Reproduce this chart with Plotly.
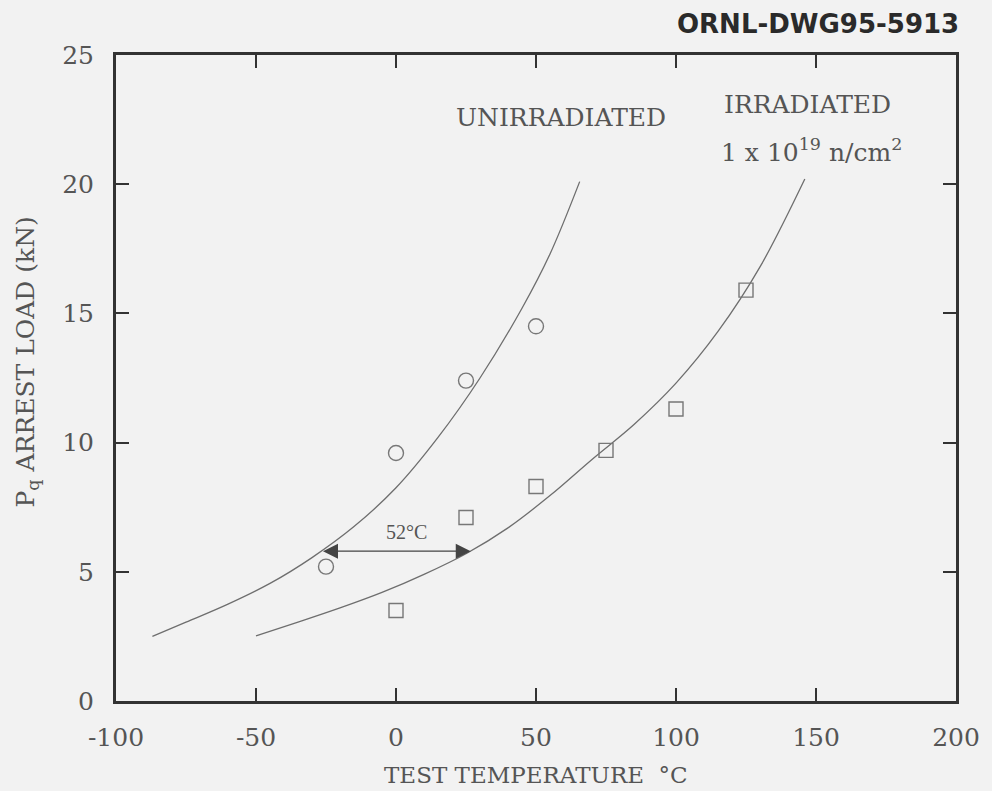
import plotly.graph_objects as go

# Measured arrest loads
unirr_temp = [-25, 0, 25, 50]
unirr_load = [5.2, 9.6, 12.4, 14.5]
irr_temp = [0, 25, 50, 75, 100, 125]
irr_load = [3.5, 7.1, 8.3, 9.7, 11.3, 15.9]

# Fitted trend curves
unirr_fit_temp = [-87, -75, -60, -45, -30, -15, 0, 15, 30, 45, 55, 65.6]
unirr_fit_load = [2.5, 3.05, 3.75, 4.55, 5.55, 6.75, 8.25, 10.2, 12.5, 15.2, 17.3, 20.1]
irr_fit_temp = [-50, -35, -20, -5, 10, 25, 40, 55, 70, 85, 100, 115, 130, 146]
irr_fit_load = [2.52, 3.05, 3.6, 4.2, 4.9, 5.7, 6.7, 7.95, 9.35, 10.7, 12.3, 14.3, 16.8, 20.2]

# Temperature shift between the two curves
shift_load = 5.8
shift_from = -26.6
shift_to = 26.7
shift_label = "52°C"

x_ticks = [-100, -50, 0, 50, 100, 150, 200]
y_ticks = [0, 5, 10, 15, 20, 25]

serif = "DejaVu Serif"
ink = "#333333"
text_col = "#555555"
curve_col = "#6e6e6e"
bg = "#f2f2f2"

fig = go.Figure()

for xs, ys in ((unirr_fit_temp, unirr_fit_load), (irr_fit_temp, irr_fit_load)):
    fig.add_trace(go.Scatter(
        x=xs, y=ys, mode="lines",
        line=dict(color=curve_col, width=1.3, shape="spline", smoothing=1.0),
        hoverinfo="skip", showlegend=False))

fig.add_trace(go.Scatter(
    x=unirr_temp, y=unirr_load, mode="markers", name="Unirradiated",
    marker=dict(symbol="circle-open", size=15, color="#777777", line=dict(width=1.4)),
    showlegend=False))
fig.add_trace(go.Scatter(
    x=irr_temp, y=irr_load, mode="markers", name="Irradiated",
    marker=dict(symbol="square-open", size=14, color="#777777", line=dict(width=1.4)),
    showlegend=False))

centered = dict(xanchor="center", yanchor="middle", showarrow=False)

annotations = [
    # double-headed shift arrow
    dict(x=shift_to, y=shift_load, ax=shift_from, ay=shift_load,
         xref="x", yref="y", axref="x", ayref="y", text="",
         showarrow=True, arrowhead=2, startarrowhead=2, arrowside="end+start",
         arrowsize=2.5, startarrowsize=2.5, arrowwidth=1.2, arrowcolor="#444444"),
    dict(x=3.7, y=6.55, xref="x", yref="y", text=shift_label,
         font=dict(family="Liberation Serif", size=20, color=text_col), **centered),
    dict(x=59.0, y=22.6, xref="x", yref="y", text="UNIRRADIATED",
         font=dict(family=serif, size=25, color=text_col), **centered),
    dict(x=147.0, y=23.1, xref="x", yref="y", text="IRRADIATED",
         font=dict(family=serif, size=25, color=text_col), **centered),
    dict(x=148.5, y=21.3, xref="x", yref="y",
         text="1 x 10<sup>19</sup> n/cm<sup>2</sup>",
         font=dict(family=serif, size=25, color=text_col), **centered),
    # drawing number
    dict(x=822, y=24, xref="paper", yref="paper", text="<b>ORNL-DWG95-5913</b>",
         font=dict(family="DejaVu Sans", size=26, color="#2a2a2a"), **centered),
    # y-axis title
    dict(x=26, y=362, xref="paper", yref="paper",
         text="P<sub>q</sub> ARREST LOAD (kN)", textangle=-90,
         font=dict(family=serif, size=25, color=text_col), **centered),
    # x-axis title
    dict(x=538, y=775, xref="paper", yref="paper",
         text="TEST TEMPERATURE  °C",
         font=dict(family=serif, size=23, color=text_col), **centered),
]

# page-level labels are positioned in pixels, converted to paper coordinates
L, R, T, B = 116, 31, 55, 90
W, H = 992, 791
pw, ph = W - L - R, H - T - B
for a in annotations:
    if a.get("xref") == "paper":
        a["x"] = (a["x"] - L) / pw
        a["y"] = (H - B - a["y"]) / ph

axis_style = dict(
    showgrid=False, zeroline=False, showline=True, linecolor=ink, linewidth=3,
    mirror="ticks", ticks="inside", ticklen=13, tickwidth=1.6, tickcolor=ink,
    tickfont=dict(family=serif, size=25, color=text_col))

fig.update_layout(
    width=W, height=H,
    margin=dict(l=L, r=R, t=T, b=B, pad=0),
    paper_bgcolor=bg, plot_bgcolor=bg,
    annotations=annotations,
    xaxis=dict(range=[-100, 200], tickvals=x_ticks, ticktext=[str(v) for v in x_ticks],
               ticklabelstandoff=12, **axis_style),
    yaxis=dict(range=[0, 25], tickvals=y_ticks, ticktext=[str(v) for v in y_ticks],
               ticklabelstandoff=14, **axis_style),
)

fig.write_html("out.html")
